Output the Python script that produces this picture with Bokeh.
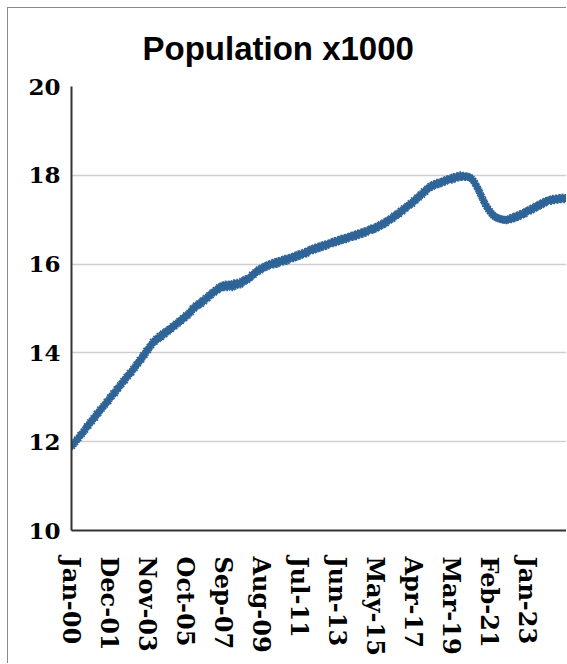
import math
from bokeh.plotting import figure
from bokeh.models import FixedTicker, Range1d, ColumnDataSource
from bokeh.embed import file_html
from bokeh.resources import INLINE

# Monthly population (thousands), Jan-2000 .. Dec-2024
pop_2000 = [11.90, 11.95, 11.99, 12.05, 12.08, 12.15, 12.17, 12.23, 12.27, 12.35, 12.36, 12.44]
pop_2001 = [12.46, 12.53, 12.54, 12.63, 12.64, 12.72, 12.74, 12.80, 12.83, 12.90, 12.91, 13.00]
pop_2002 = [13.02, 13.09, 13.09, 13.18, 13.20, 13.27, 13.30, 13.37, 13.38, 13.46, 13.48, 13.55]
pop_2003 = [13.56, 13.64, 13.66, 13.74, 13.76, 13.84, 13.85, 13.95, 13.95, 14.05, 14.06, 14.14]
pop_2004 = [14.17, 14.25, 14.25, 14.32, 14.31, 14.38, 14.36, 14.44, 14.42, 14.49, 14.48, 14.54]
pop_2005 = [14.54, 14.60, 14.60, 14.66, 14.66, 14.72, 14.72, 14.78, 14.78, 14.85, 14.84, 14.90]
pop_2006 = [14.92, 15.00, 15.00, 15.07, 15.06, 15.12, 15.10, 15.18, 15.16, 15.24, 15.23, 15.30]
pop_2007 = [15.30, 15.36, 15.36, 15.42, 15.41, 15.48, 15.46, 15.52, 15.48, 15.54, 15.48, 15.54]
pop_2008 = [15.53, 15.48, 15.57, 15.51, 15.58, 15.56, 15.54, 15.62, 15.60, 15.66, 15.64, 15.68]
pop_2009 = [15.70, 15.76, 15.76, 15.82, 15.82, 15.88, 15.86, 15.92, 15.91, 15.96, 15.94, 15.99]
pop_2010 = [15.98, 16.02, 15.99, 16.05, 16.00, 16.07, 16.04, 16.09, 16.06, 16.12, 16.07, 16.13]
pop_2011 = [16.12, 16.16, 16.13, 16.19, 16.16, 16.22, 16.19, 16.24, 16.22, 16.27, 16.24, 16.30]
pop_2012 = [16.30, 16.34, 16.31, 16.37, 16.34, 16.39, 16.36, 16.42, 16.39, 16.44, 16.41, 16.46]
pop_2013 = [16.46, 16.49, 16.47, 16.52, 16.49, 16.54, 16.52, 16.57, 16.54, 16.59, 16.56, 16.61]
pop_2014 = [16.60, 16.64, 16.61, 16.66, 16.63, 16.69, 16.66, 16.71, 16.68, 16.74, 16.71, 16.76]
pop_2015 = [16.76, 16.80, 16.77, 16.82, 16.80, 16.86, 16.84, 16.90, 16.88, 16.94, 16.92, 16.98]
pop_2016 = [16.98, 17.03, 17.02, 17.09, 17.08, 17.14, 17.13, 17.20, 17.19, 17.26, 17.25, 17.31]
pop_2017 = [17.32, 17.37, 17.36, 17.44, 17.43, 17.50, 17.50, 17.57, 17.56, 17.64, 17.63, 17.70]
pop_2018 = [17.71, 17.76, 17.74, 17.80, 17.78, 17.83, 17.80, 17.85, 17.83, 17.88, 17.86, 17.91]
pop_2019 = [17.90, 17.93, 17.90, 17.96, 17.93, 17.98, 17.95, 18.00, 17.96, 17.99, 17.96, 17.98]
pop_2020 = [17.96, 17.95, 17.92, 17.88, 17.82, 17.75, 17.68, 17.60, 17.52, 17.44, 17.36, 17.30]
pop_2021 = [17.24, 17.19, 17.14, 17.10, 17.07, 17.05, 17.03, 17.02, 17.01, 17.00, 17.00, 16.99]
pop_2022 = [17.00, 17.03, 17.01, 17.06, 17.03, 17.09, 17.06, 17.12, 17.10, 17.15, 17.13, 17.19]
pop_2023 = [17.19, 17.23, 17.21, 17.27, 17.25, 17.31, 17.29, 17.35, 17.33, 17.39, 17.37, 17.42]
pop_2024 = [17.42, 17.45, 17.42, 17.47, 17.44, 17.48, 17.45, 17.49, 17.46, 17.50, 17.46, 17.49]

years = [pop_2000, pop_2001, pop_2002, pop_2003, pop_2004, pop_2005, pop_2006,
         pop_2007, pop_2008, pop_2009, pop_2010, pop_2011, pop_2012, pop_2013,
         pop_2014, pop_2015, pop_2016, pop_2017, pop_2018, pop_2019, pop_2020,
         pop_2021, pop_2022, pop_2023, pop_2024]
population = [v for yr in years for v in yr]
month_index = list(range(len(population)))

tick_positions = [0, 23, 46, 69, 92, 115, 138, 161, 184, 207, 230, 253, 276]
tick_labels = ["Jan-00", "Dec-01", "Nov-03", "Oct-05", "Sep-07", "Aug-09", "Jul-11",
               "Jun-13", "May-15", "Apr-17", "Mar-19", "Feb-21", "Jan-23"]
y_ticks = [10, 12, 14, 16, 18, 20]
grid_ticks = [12, 14, 16, 18]

src = ColumnDataSource(dict(m=month_index, v=population))

p = figure(width=559, height=656, output_backend="svg", toolbar_location=None,
           x_range=Range1d(-0.3, 300), y_range=Range1d(10, 20),
           title="Population x1000",
           min_border_left=63, min_border_right=0, min_border_top=78,
           min_border_bottom=134)
p.styles = {"border-left": "1px solid #8a8a8a", "border-top": "1px solid #8a8a8a",
            "margin-left": "7px", "margin-top": "7px"}

p.title.text_font = "Liberation Sans"
p.title.text_font_style = "bold"
p.title.text_font_size = "33px"
p.title.align = "left"
p.title.offset = 71
p.title.standoff = 39
p.title.text_color = "#000000"

p.scatter("m", "v", source=src, marker="asterisk", size=8, line_width=1.8,
          color="#2f6497")

p.outline_line_color = None
p.xgrid.grid_line_color = None
p.ygrid.ticker = FixedTicker(ticks=grid_ticks)
p.ygrid.grid_line_color = "#d0d0d0"
p.ygrid.grid_line_width = 1.5

p.yaxis.ticker = FixedTicker(ticks=y_ticks)
p.yaxis.axis_line_color = "#333333"
p.yaxis.axis_line_width = 2
p.yaxis.major_tick_line_color = None
p.yaxis.minor_tick_line_color = None
p.yaxis.major_label_text_font = "DejaVu Serif"
p.yaxis.major_label_text_font_style = "bold"
p.yaxis.major_label_text_font_size = "23px"
p.yaxis.major_label_text_color = "#000000"
p.yaxis.major_label_standoff = 5

p.xaxis.ticker = FixedTicker(ticks=tick_positions)
p.xaxis.major_label_overrides = {t: l for t, l in zip(tick_positions, tick_labels)}
p.xaxis.axis_line_color = "#333333"
p.xaxis.axis_line_width = 2
p.xaxis.major_tick_line_color = None
p.xaxis.minor_tick_line_color = None
p.xaxis.major_label_orientation = -math.pi / 2
p.xaxis.major_label_text_font = "DejaVu Serif"
p.xaxis.major_label_text_font_style = "bold"
p.xaxis.major_label_text_font_size = "24px"
p.xaxis.major_label_text_color = "#000000"
p.xaxis.major_label_standoff = 20

open("out.html", "w").write(file_html(p, INLINE))
